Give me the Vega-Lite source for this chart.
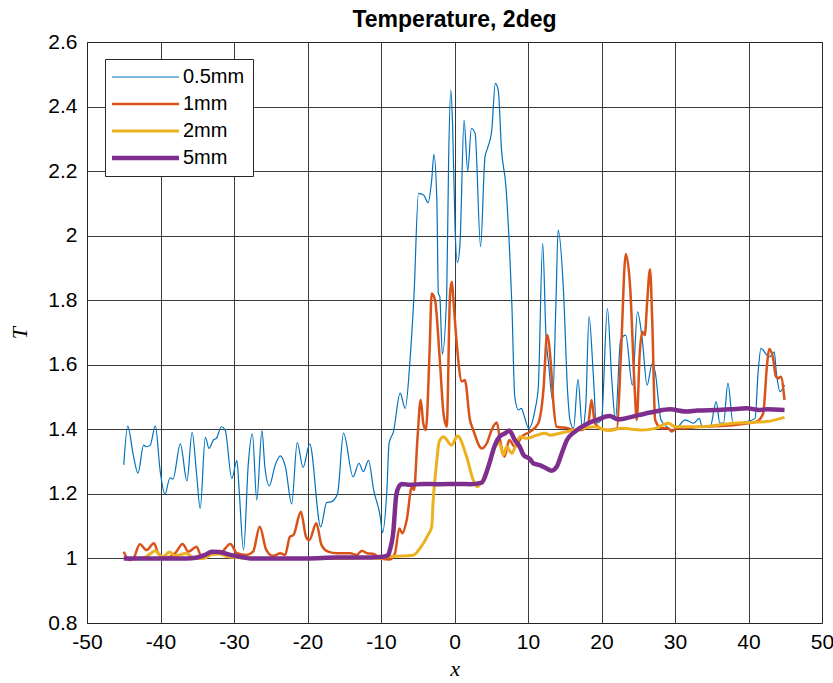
{
  "$schema": "https://vega.github.io/schema/vega-lite/v6.json",
  "width": 735,
  "height": 581,
  "autosize": {"type": "none"},
  "padding": {"left": 87, "top": 42, "right": 11, "bottom": 60},
  "background": "white",
  "title": {"text": "Temperature, 2deg", "font": "Liberation Sans", "fontSize": 23, "fontWeight": "bold", "color": "black", "offset": -1},
  "datasets": {
    "s05": [
      [-45,1.29],[-44.46,1.41],[-43.7,1.32],[-43.06,1.264],[-42.3,1.351],[-41.9,1.346],[-41.4,1.351],[-40.7,1.411],[-40.06,1.274],[-39.4,1.199],[-38.7,1.25],[-38.3,1.246],[-37.3,1.355],[-36.4,1.24],[-35.7,1.391],[-35.1,1.264],[-34.6,1.155],[-33.9,1.375],[-33.4,1.341],[-32.8,1.367],[-32.4,1.372],[-31.7,1.408],[-31.2,1.398],[-30.3,1.248],[-29.6,1.303],[-29.3,1.212],[-28.7,1.026],[-28.05,1.295],[-27.5,1.386],[-26.9,1.181],[-26.2,1.396],[-25.8,1.284],[-25.2,1.225],[-24.4,1.289],[-23.7,1.318],[-23.0,1.284],[-22.15,1.169],[-21.4,1.359],[-20.6,1.282],[-19.7,1.355],[-18.2,1.098],[-17.4,1.173],[-16.7,1.176],[-15.9,1.202],[-15.1,1.388],[-13.8,1.253],[-13.0,1.295],[-12.4,1.269],[-11.7,1.304],[-11.0,1.212],[-10.1,1.129],[-9.8,1.08],[-9.2,1.212],[-8.9,1.357],[-8.3,1.393],[-7.4,1.512],[-6.7,1.465],[-6.05,1.615],[-5.5,1.821],[-4.9,2.131],[-4.2,2.126],[-3.6,2.102],[-3.1,2.173],[-2.8,2.252],[-2.4,2.11],[-2.2,1.821],[-2.0,1.811],[-1.66,1.633],[-1.06,1.821],[-0.8,2.234],[-0.5,2.451],[-0.25,2.337],[0.07,2.028],[0.4,1.917],[0.75,1.976],[1.3,2.358],[1.8,2.2],[2.3,2.332],[2.8,2.317],[3.55,1.966],[4.15,2.245],[4.45,2.268],[5.05,2.322],[5.55,2.472],[5.95,2.451],[6.4,2.265],[7.0,2.152],[7.55,1.925],[7.8,1.79],[8.2,1.501],[8.7,1.46],[9.1,1.465],[9.45,1.444],[10.1,1.403],[10.95,1.46],[11.4,1.532],[12.0,1.976],[12.45,1.687],[12.8,1.604],[13.35,1.491],[13.8,1.79],[14.1,2.017],[14.8,1.842],[15.4,1.512],[15.7,1.429],[16.2,1.403],[16.8,1.555],[17.4,1.403],[17.85,1.47],[18.3,1.749],[18.9,1.563],[19.3,1.419],[20.0,1.429],[20.8,1.775],[21.4,1.553],[21.9,1.429],[22.6,1.677],[23.3,1.692],[24.2,1.537],[24.9,1.764],[25.55,1.677],[26.2,1.537],[26.9,1.604],[27.3,1.578],[28.1,1.429],[28.9,1.408],[29.55,1.398],[30.2,1.403],[31.4,1.429],[32.5,1.419],[33.3,1.434],[33.7,1.408],[34.8,1.408],[35.6,1.486],[36.1,1.419],[36.6,1.419],[37.2,1.543],[37.9,1.419],[39.8,1.424],[40.9,1.434],[41.3,1.574],[41.7,1.651],[42.5,1.63],[42.9,1.625],[43.5,1.64],[43.8,1.574],[44.3,1.517],[44.9,1.537]
    ],
    "s1": [
      [-45,1.021],[-44.25,0.995],[-43.7,1.0],[-42.8,1.044],[-41.9,1.026],[-40.9,1.047],[-40.3,1.016],[-39.2,1.003],[-38.0,1.016],[-37.0,1.045],[-36.2,1.021],[-35.1,1.036],[-34.4,1.005],[-33.0,1.021],[-31.9,1.016],[-30.5,1.045],[-29.6,1.016],[-28.3,1.011],[-27.4,1.021],[-26.5,1.098],[-25.6,1.026],[-24.65,1.008],[-23.7,1.016],[-23.05,1.011],[-22.4,1.067],[-21.9,1.073],[-20.9,1.145],[-20.2,1.067],[-19.75,1.057],[-18.8,1.109],[-18.1,1.042],[-17.2,1.021],[-16.0,1.016],[-14.2,1.016],[-13.3,1.011],[-12.6,1.024],[-11.9,1.016],[-11.0,1.014],[-10.1,1.0],[-8.8,0.997],[-8.1,1.016],[-7.5,1.093],[-7.1,1.078],[-6.5,1.119],[-5.8,1.222],[-5.5,1.212],[-5.05,1.367],[-4.6,1.491],[-4.25,1.419],[-3.9,1.398],[-3.4,1.635],[-3.1,1.821],[-2.65,1.801],[-2.0,1.615],[-1.5,1.45],[-1.06,1.408],[-0.6,1.821],[-0.35,1.857],[-0.15,1.801],[0.3,1.667],[1.0,1.548],[1.4,1.553],[2.1,1.429],[2.55,1.398],[3.7,1.341],[4.4,1.357],[5.05,1.398],[5.75,1.421],[6.2,1.367],[6.8,1.315],[7.45,1.367],[8.2,1.346],[9.15,1.377],[10.3,1.393],[11.4,1.419],[12.1,1.522],[12.6,1.692],[13.1,1.605],[13.45,1.481],[13.9,1.408],[15.5,1.403],[16.2,1.398],[17.3,1.398],[18.2,1.419],[18.65,1.491],[19.1,1.419],[20.5,1.398],[22.1,1.403],[22.65,1.635],[23.3,1.943],[23.9,1.84],[24.5,1.532],[24.8,1.429],[25.2,1.635],[25.55,1.702],[25.9,1.692],[26.2,1.79],[26.6,1.896],[26.9,1.739],[27.3,1.429],[28.2,1.403],[29.1,1.403],[29.55,1.393],[30.2,1.403],[30.7,1.403],[33.4,1.408],[37.9,1.413],[41.1,1.424],[42.0,1.45],[42.5,1.594],[42.8,1.649],[43.3,1.625],[43.75,1.563],[44.05,1.558],[44.4,1.563],[44.9,1.491]
    ],
    "s2": [
      [-45,1.0],[-43.5,1.0],[-42,1.005],[-41.2,1.018],[-40.7,1.024],[-40.1,1.01],[-39.6,1.006],[-38.8,1.02],[-38.0,1.008],[-37.2,1.012],[-36.5,1.016],[-35.6,1.003],[-34.2,1.0],[-33,1.012],[-32,1.014],[-31,1.006],[-29,1.002],[-25,1.0],[-20,1.0],[-15,1.0],[-12,1.002],[-10,1.0],[-9.2,1.005],[-5.6,1.01],[-4.7,1.031],[-3.6,1.073],[-3.1,1.098],[-2.9,1.18],[-2.6,1.26],[-2.4,1.305],[-2.1,1.36],[-1.5,1.377],[-0.4,1.351],[0.4,1.379],[1.65,1.315],[2.55,1.243],[3.1,1.222],[3.7,1.238],[4.4,1.274],[5.3,1.336],[6.1,1.357],[6.65,1.32],[7.1,1.346],[7.8,1.326],[8.45,1.357],[8.9,1.377],[9.8,1.372],[11.2,1.382],[12.3,1.388],[13.0,1.382],[14.35,1.388],[16.4,1.398],[19.1,1.408],[20.9,1.396],[22.75,1.403],[25.5,1.398],[27.3,1.403],[29.1,1.419],[30.0,1.408],[33.4,1.408],[35.7,1.413],[37.9,1.419],[40.2,1.421],[42.5,1.424],[44.9,1.437]
    ],
    "s5": [
      [-45,1.0],[-36.5,1.0],[-35,1.003],[-34,1.01],[-33,1.021],[-32,1.02],[-30.5,1.011],[-29.2,1.005],[-27.8,1.0],[-20,1.0],[-16,1.003],[-11.5,1.003],[-9.7,1.005],[-9.0,1.011],[-8.8,1.026],[-8.3,1.088],[-8.0,1.18],[-7.9,1.2],[-7.5,1.225],[-7.2,1.231],[-6.05,1.228],[-4.25,1.231],[-2.4,1.23],[0.75,1.231],[2.1,1.23],[3.7,1.235],[4.6,1.284],[5.5,1.351],[6.2,1.379],[6.9,1.388],[7.45,1.396],[8.2,1.367],[8.9,1.345],[9.4,1.32],[10.3,1.307],[10.7,1.295],[11.6,1.289],[12.5,1.279],[13.2,1.272],[13.9,1.284],[14.6,1.326],[15.3,1.367],[16.4,1.393],[18.2,1.419],[19.55,1.431],[21.1,1.441],[22.3,1.431],[25.0,1.444],[27.3,1.455],[29.3,1.462],[31.6,1.455],[33,1.458],[35.7,1.46],[37.5,1.462],[39.75,1.465],[41.5,1.46],[42.5,1.462],[44.9,1.46]
    ]
  },
  "encoding": {
    "x": {
      "field": "x", "type": "quantitative",
      "scale": {"domain": [-50, 50], "nice": false, "zero": false},
      "axis": {
        "values": [-50, -40, -30, -20, -10, 0, 10, 20, 30, 40, 50],
        "labelExpr": "datum.value < 0 ? '-' + abs(datum.value) : '' + datum.value",
        "labelPadding": 8,
        "title": "x",
        "titlePadding": 6
      }
    },
    "y": {
      "field": "T", "type": "quantitative",
      "scale": {"domain": [0.8, 2.6], "nice": false, "zero": false},
      "axis": {
        "values": [0.8, 1, 1.2, 1.4, 1.6, 1.8, 2, 2.2, 2.4, 2.6],
        "format": "~g",
        "labelPadding": 10,
        "title": "T",
        "titlePadding": 16
      }
    },
    "color": {
      "field": "series", "type": "nominal",
      "scale": {"domain": ["0.5mm", "1mm", "2mm", "5mm"], "range": ["#0072BD", "#D95319", "#EDB120", "#7E2F8E"]},
      "legend": {
        "title": null,
        "orient": "none",
        "legendX": 18,
        "legendY": 17,
        "symbolType": "M-2.2,0H11.2",
        "symbolSize": 100,
        "labelOffset": 50,
        "labelFont": "Liberation Sans",
        "labelFontSize": 20,
        "labelColor": "black",
        "rowPadding": 7,
        "padding": 8,
        "strokeColor": "#262626",
        "fillColor": "white",
        "cornerRadius": 0,
        "encode": {
          "symbols": {
            "update": {
              "strokeWidth": {"signal": "datum.value === '0.5mm' ? 1.2 : datum.value === '1mm' ? 2.5 : datum.value === '2mm' ? 3 : 4.5"}
            }
          }
        }
      }
    }
  },
  "layer": [
    {
      "data": {"name": "s05"},
      "transform": [{"calculate": "datum[0]", "as": "x"}, {"calculate": "datum[1]", "as": "T"}, {"calculate": "'0.5mm'", "as": "series"}],
      "mark": {"type": "line", "strokeWidth": 1.2, "interpolate": "monotone"}
    },
    {
      "data": {"name": "s1"},
      "transform": [{"calculate": "datum[0]", "as": "x"}, {"calculate": "datum[1]", "as": "T"}, {"calculate": "'1mm'", "as": "series"}],
      "mark": {"type": "line", "strokeWidth": 2.5, "interpolate": "monotone"}
    },
    {
      "data": {"name": "s2"},
      "transform": [{"calculate": "datum[0]", "as": "x"}, {"calculate": "datum[1]", "as": "T"}, {"calculate": "'2mm'", "as": "series"}],
      "mark": {"type": "line", "strokeWidth": 3, "interpolate": "monotone"}
    },
    {
      "data": {"name": "s5"},
      "transform": [{"calculate": "datum[0]", "as": "x"}, {"calculate": "datum[1]", "as": "T"}, {"calculate": "'5mm'", "as": "series"}],
      "mark": {"type": "line", "strokeWidth": 4.5, "interpolate": "monotone"}
    }
  ],
  "config": {
    "view": {"stroke": "#262626", "strokeWidth": 1},
    "axis": {
      "labelFont": "Liberation Sans",
      "labelFontSize": 21,
      "labelColor": "black",
      "labelFlush": false,
      "labelOverlap": false,
      "domain": false,
      "ticks": false,
      "grid": true,
      "gridColor": "#262626",
      "gridOpacity": 0.9,
      "gridWidth": 1,
      "titleFont": "Liberation Serif",
      "titleFontStyle": "italic",
      "titleFontWeight": "normal",
      "titleFontSize": 22,
      "titleColor": "black"
    }
  }
}
